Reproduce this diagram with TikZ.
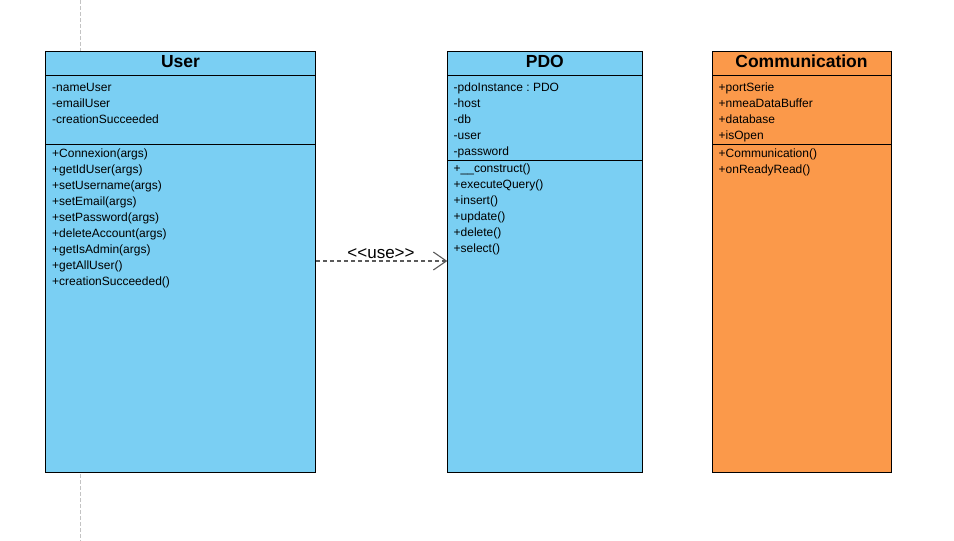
\documentclass[tikz,border=0pt]{standalone}
\usepackage{fontspec}
\setmainfont{Liberation Sans}
\usetikzlibrary{arrows.meta}
\frenchspacing
\definecolor{umlblue}{RGB}{122,207,243}
\definecolor{umlorange}{RGB}{251,153,74}
\definecolor{guidegray}{RGB}{195,195,195}
\definecolor{arrowgray}{RGB}{90,90,90}
\tikzset{
  classbox/.style={draw=black, line width=1.1pt, rectangle, inner sep=0pt, anchor=north west},
  divider/.style={draw=black, line width=1.1pt},
  classtitle/.style={font=\fontsize{17.5}{20}\selectfont\bfseries, inner sep=0pt, anchor=base},
  member/.style={font=\fontsize{12}{14}\selectfont, inner sep=0pt, anchor=base west},
  guide/.style={draw=guidegray, line width=0.8pt, dash pattern=on 4pt off 2pt},
  uses/.style={draw=arrowgray, line width=1.1pt, dash pattern=on 4pt off 3pt, -{Straight Barb[length=13pt,width=18pt,line width=1.1pt]}},
  uselabel/.style={font=\fontsize{17}{19}\selectfont, inner sep=0pt, anchor=base}
}
\begin{document}
\begin{tikzpicture}[x=1pt,y=-1pt]
\useasboundingbox (0,0) rectangle (954,541);
\fill[white] (0,0) rectangle (954,541);
% guide line
\coordinate (gtop) at (80.7,0);
\coordinate (gbot) at (80.7,541);
\draw[guide] (gtop) -- (gbot);

% ---- User ----
\node[classbox, fill=umlblue, minimum width=270pt, minimum height=421pt] (User) at (45.3,50.5) {};
\node[classtitle] (UserT) at (180.5,67) {User};
\draw[divider] (45.3,75.3) -- (315.3,75.3);
\draw[divider] (45.3,144.3) -- (315.3,144.3);
\node[member] (u1) at (52,91.2) {-nameUser};
\node[member] (u2) at (52,107.2) {-emailUser};
\node[member] (u3) at (52,123.2) {-creationSucceeded};
\node[member] (u4) at (52,157.6) {+Connexion(args)};
\node[member] (u5) at (52,173.6) {+getIdUser(args)};
\node[member] (u6) at (52,189.6) {+setUsername(args)};
\node[member] (u7) at (52,205.6) {+setEmail(args)};
\node[member] (u8) at (52,221.6) {+setPassword(args)};
\node[member] (u9) at (52,237.6) {+deleteAccount(args)};
\node[member] (u10) at (52,253.6) {+getIsAdmin(args)};
\node[member] (u11) at (52,269.6) {+getAllUser()};
\node[member] (u12) at (52,285.6) {+creationSucceeded()};

% ---- PDO ----
\node[classbox, fill=umlblue, minimum width=195pt, minimum height=421pt] (PDO) at (447.3,50.5) {};
\node[classtitle] (PDOT) at (544.8,67) {PDO};
\draw[divider] (447.3,75.3) -- (642.3,75.3);
\draw[divider] (447.3,160.5) -- (642.3,160.5);
\node[member] (p1) at (453.5,91.2) {-pdoInstance : PDO};
\node[member] (p2) at (453.5,107.2) {-host};
\node[member] (p3) at (453.5,123.2) {-db};
\node[member] (p4) at (453.5,139.2) {-user};
\node[member] (p5) at (453.5,155.2) {-password};
\node[member] (p6) at (453.5,172.8) {+\_\_construct()};
\node[member] (p7) at (453.5,188.8) {+executeQuery()};
\node[member] (p8) at (453.5,204.8) {+insert()};
\node[member] (p9) at (453.5,220.8) {+update()};
\node[member] (p10) at (453.5,236.8) {+delete()};
\node[member] (p11) at (453.5,252.8) {+select()};

% ---- Communication ----
\node[classbox, fill=umlorange, minimum width=178.3pt, minimum height=421pt] (Comm) at (712.3,50.5) {};
\node[classtitle] (CommT) at (801.5,67) {Communication};
\draw[divider] (712.3,75.3) -- (890.6,75.3);
\draw[divider] (712.3,144.3) -- (890.6,144.3);
\node[member] (c1) at (718.5,91.2) {+portSerie};
\node[member] (c2) at (718.5,107.2) {+nmeaDataBuffer};
\node[member] (c3) at (718.5,123.2) {+database};
\node[member] (c4) at (718.5,139.2) {+isOpen};
\node[member] (c5) at (718.5,157.6) {+Communication()};
\node[member] (c6) at (718.5,173.6) {+onReadyRead()};

% ---- dependency ----
\coordinate (ay) at (0,261);
\draw[uses] (User.east |- ay) -- (PDO.west |- ay);
\node[uselabel] (uselbl) at (381,258) {<{}<use>{}>};
\end{tikzpicture}
\end{document}
